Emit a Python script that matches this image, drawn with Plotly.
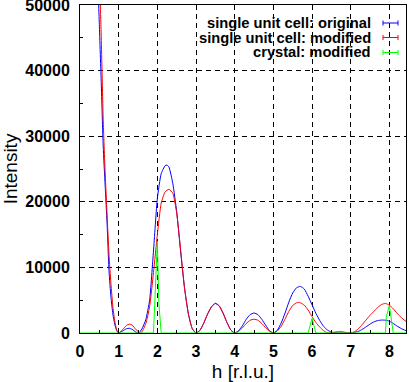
import plotly.graph_objects as go

# ---- data ----
h_blue = [0.40, 0.45, 0.50, 0.55, 0.60, 0.65, 0.70, 0.75, 0.80, 0.85, 0.90, 0.95, 1.00,
          1.10, 1.20, 1.27, 1.35, 1.45, 1.52,
          1.60, 1.70, 1.80, 1.90, 2.00, 2.10, 2.20, 2.25, 2.30, 2.40, 2.50, 2.60, 2.70, 2.80, 2.90, 3.00,
          3.10, 3.20, 3.30, 3.40, 3.50, 3.60, 3.70, 3.80, 3.90, 4.00,
          4.10, 4.20, 4.30, 4.40, 4.50, 4.60, 4.70, 4.80, 4.90, 5.00,
          5.10, 5.20, 5.30, 5.40, 5.50, 5.60, 5.70, 5.80, 5.90, 6.00, 6.10, 6.20, 6.30, 6.40, 6.50, 6.60,
          6.70, 6.80, 6.90, 7.00, 7.10, 7.20, 7.30, 7.40, 7.50, 7.60, 7.70, 7.80, 7.90, 8.00,
          8.10, 8.20, 8.30, 8.40, 8.50]
i_blue = [70000, 56000, 47000, 38000, 28500, 22500, 16700, 9500, 5500, 2900, 1300, 350, 0,
          300, 650, 720, 550, 120, 0,
          600, 2000, 5000, 12500, 20500, 24300, 25500, 25600, 25300, 22800, 18500, 12500, 7000, 3000, 700, 0,
          400, 1500, 2900, 4000, 4500, 4100, 3000, 1600, 450, 0,
          350, 1100, 2100, 2800, 3050, 2800, 2100, 1200, 350, 0,
          400, 1500, 3000, 4700, 6100, 6900, 7100, 6700, 5600, 4300, 3000, 1900, 1000, 450, 120, 30,
          0, 0, 10, 30, 100, 250, 550, 950, 1350, 1700, 1900, 1970, 1950, 1800,
          1450, 1050, 700, 430, 200]

h_red = [0.40, 0.45, 0.50, 0.55, 0.60, 0.65, 0.70, 0.75, 0.80, 0.85, 0.90, 0.95, 1.00,
         1.10, 1.20, 1.28, 1.35, 1.45, 1.56,
         1.60, 1.70, 1.80, 1.90, 2.00, 2.10, 2.20, 2.30, 2.40, 2.50, 2.60, 2.70, 2.80, 2.90, 3.00,
         3.10, 3.20, 3.30, 3.40, 3.50, 3.60, 3.70, 3.80, 3.90, 4.00,
         4.10, 4.20, 4.30, 4.40, 4.50, 4.60, 4.70, 4.80, 4.90, 5.00,
         5.10, 5.20, 5.30, 5.40, 5.50, 5.60, 5.65, 5.70, 5.80, 5.90, 6.00, 6.10, 6.20, 6.30, 6.40,
         6.50, 6.60, 6.70, 6.80, 6.90, 7.00, 7.10, 7.20, 7.30, 7.40, 7.50, 7.60, 7.70, 7.80, 7.90,
         8.00, 8.10, 8.20, 8.30, 8.40, 8.50]
i_red = [75000, 62000, 55000, 45000, 32500, 24500, 18000, 12000, 7500, 4000, 1800, 450, 0,
         500, 1150, 1350, 1200, 500, 0,
         150, 1400, 4000, 9200, 15000, 19800, 21500, 21900, 21300, 18300, 12800, 7000, 3000, 700, 0,
         400, 1500, 2900, 4000, 4550, 4150, 3050, 1600, 450, 0,
         250, 800, 1450, 1950, 2100, 1950, 1450, 800, 250, 0,
         300, 1000, 2100, 3300, 4200, 4600, 4650, 4600, 4250, 3500, 2500, 1600, 900, 350, 20,
         60, 150, 200, 170, 60, 0, 200, 650, 1300, 2000, 2700, 3300, 3900, 4350, 4500,
         4250, 3700, 3000, 2400, 1900, 1450]

h_green = [0.00, 1.90, 1.94, 2.00, 2.04, 2.10, 5.90, 6.00, 6.10, 7.90, 7.92, 8.00, 8.10, 8.50]
i_green = [0, 0, 5500, 14000, 4500, 0, 0, 2250, 0, 0, 2400, 4200, 0, 0]

names = ["single unit cell: original", "single unit cell: modified", "crystal: modified"]
colors = ["#0000ff", "#ff0000", "#00ff00"]

x_ticks = [0, 1, 2, 3, 4, 5, 6, 7, 8]
y_ticks = [0, 10000, 20000, 30000, 40000, 50000]

fig = go.Figure()
fig.add_trace(go.Scatter(x=h_blue, y=i_blue, mode="lines", name=names[0],
                         line=dict(color=colors[0], width=1, shape="spline", smoothing=0.5)))
fig.add_trace(go.Scatter(x=h_red, y=i_red, mode="lines", name=names[1],
                         line=dict(color=colors[1], width=1, shape="spline", smoothing=0.5)))
fig.add_trace(go.Scatter(x=h_green, y=i_green, mode="lines", name=names[2],
                         line=dict(color=colors[2], width=1)))

W, H = 409, 382
ml, mr, mt, mb = 80, 3, 5, 49
pw = W - ml - mr
ph = H - mt - mb

tickfont = dict(family="Liberation Sans", size=16, color="black", weight="bold")

fig.update_layout(
    width=W, height=H,
    margin=dict(l=ml, r=mr, t=mt, b=mb, pad=0),
    paper_bgcolor="white", plot_bgcolor="white",
    showlegend=False,
    font=dict(family="Liberation Sans", color="black"),
)
fig.update_xaxes(
    range=[0, 8.43], tickvals=x_ticks, ticktext=[str(v) for v in x_ticks],
    tickfont=tickfont, ticks="inside", ticklen=5, tickcolor="black",
    minor=dict(dtick=0.5, ticks="inside", ticklen=3, tickcolor="black", showgrid=False),
    showgrid=True, gridcolor="black", gridwidth=1, griddash="5px,4px",
    showline=True, linecolor="black", linewidth=1, mirror=True, zeroline=False,
    automargin=False, ticklabelstandoff=4, ticklabeloverflow="allow",
    title=dict(text="h [r.l.u.]", font=dict(family="Liberation Sans", size=19), standoff=10),
)
fig.update_yaxes(
    range=[0, 50000], tickvals=y_ticks, ticktext=[str(v) for v in y_ticks],
    tickfont=tickfont, ticks="inside", ticklen=5, tickcolor="black",
    minor=dict(dtick=5000, ticks="inside", ticklen=3, tickcolor="black", showgrid=False),
    showgrid=True, gridcolor="black", gridwidth=1, griddash="5px,4px",
    showline=True, linecolor="black", linewidth=1, mirror=True, zeroline=False,
    automargin=False, ticklabelstandoff=6, ticklabeloverflow="allow",
    title=dict(text="Intensity", font=dict(family="Liberation Sans", size=19), standoff=6),
)

# gnuplot-style key: right-aligned text with short sample segments
key_text_x = (373 - ml) / pw
seg_x0 = (383 - ml) / pw
seg_x1 = (398 - ml) / pw
key_rows_px = [23, 37.5, 52.5]
tick_half = 2.5 / ph
for name, col, ypx in zip(names, colors, key_rows_px):
    yp = 1 - (ypx - mt) / ph
    fig.add_annotation(x=key_text_x, y=yp, xref="paper", yref="paper", text=name,
                       showarrow=False, xanchor="right", yanchor="middle",
                       font=dict(family="Liberation Sans", size=14.7, color="black", weight="bold"))
    fig.add_shape(type="line", xref="paper", yref="paper", x0=seg_x0, x1=seg_x1, y0=yp, y1=yp,
                  line=dict(color=col, width=1))
    for xx in (seg_x0, seg_x1):
        fig.add_shape(type="line", xref="paper", yref="paper", x0=xx, x1=xx,
                      y0=yp - tick_half, y1=yp + tick_half, line=dict(color=col, width=1))

fig.write_html("out.html", config={"responsive": False, "displayModeBar": False},
               post_script="document.body.style.margin='0';document.body.style.overflow='hidden';")
